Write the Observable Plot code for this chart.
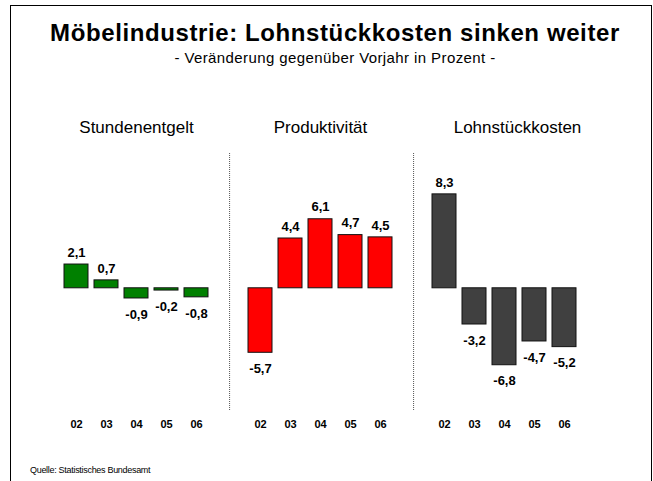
<!DOCTYPE html>
<html>
<head>
<meta charset="utf-8">
<script src="https://cdn.jsdelivr.net/npm/d3@7"></script>
<script src="https://cdn.jsdelivr.net/npm/@observablehq/plot@0.6"></script>
<style>
  html, body { margin: 0; padding: 0; background: #fff; overflow: hidden; }
  #wrap { position: relative; width: 653px; height: 481px; overflow: hidden; font-family: "Liberation Sans", Arial, sans-serif; color: #000; }
  #border { position: absolute; left: 10px; top: 5px; width: 640px; height: 520px; border: 1.5px solid #000; }
  #title { position: absolute; left: 0; width: 670px; top: 21px; text-align: center; font-size: 24px; line-height: 24px; font-weight: bold; letter-spacing: 0.6px; white-space: nowrap; }
  #subtitle { position: absolute; left: 0; width: 670px; top: 50px; text-align: center; font-size: 15px; line-height: 15px; letter-spacing: 0.4px; white-space: nowrap; }
  #chart { position: absolute; left: 0; top: 75px; }
  #caption { position: absolute; left: 30px; top: 466px; font-size: 9px; line-height: 9px; letter-spacing: -0.3px; white-space: nowrap; }
</style>
</head>
<body>
<div id="wrap">
  <div id="border"></div>
  <div id="title">Möbelindustrie: Lohnstückkosten sinken weiter</div>
  <div id="subtitle">- Veränderung gegenüber Vorjahr in Prozent -</div>
  <div id="chart"></div>
  <div id="caption">Quelle: Statistisches Bundesamt</div>
</div>
<script>
const panels = ["Stundenentgelt", "Produktivität", "Lohnstückkosten"];
const years = ["02", "03", "04", "05", "06"];
const stundenentgelt = [2.1, 0.7, -0.9, -0.2, -0.8];
const produktivitaet = [-5.7, 4.4, 6.1, 4.7, 4.5];
const lohnstueckkosten = [8.3, -3.2, -6.8, -4.7, -5.2];
const colors = ["#008000", "#ff0000", "#404040"];

const series = [stundenentgelt, produktivitaet, lohnstueckkosten];
const data = [];
panels.forEach((p, i) => years.forEach((y, j) => data.push({panel: p, year: y, value: series[i][j]})));
const fmt = v => v.toFixed(1).replace(".", ",");

// layout parameters
const width = 653, height = 380;
const marginLeft = 55, marginRight = 69, marginTop = 77, marginBottom = 45;
const fxPad = 0.133, xPad = 0.216;
const yDomain = [-10.8, 12.0];

// separator offset relative to centre of first band in a facet
const innerW = width - marginLeft - marginRight;
const fxStep = innerW / (panels.length - fxPad);
const facetW = fxStep * (1 - fxPad);
const gap = fxStep * fxPad;
const xStep = facetW / (years.length + xPad);
const firstCenter = xPad * xStep + (1 - xPad) * xStep / 2;
const sepDx = -(firstCenter + gap / 2);

const titleStyle = {frameAnchor: "top", text: "panel", dy: -32, fontSize: 17, fill: "#000", letterSpacing: 1.4};

const chart = Plot.plot({
  width, height, marginLeft, marginRight, marginTop, marginBottom,
  style: {fontFamily: "'Liberation Sans', Arial, sans-serif", background: "transparent", color: "#000"},
  fx: {domain: panels, paddingInner: fxPad, paddingOuter: 0, axis: null},
  x: {domain: years, paddingInner: xPad, paddingOuter: xPad},
  y: {domain: yDomain, axis: null},
  color: {domain: panels, range: colors},
  marks: [
    Plot.ruleX(panels.slice(1).map(p => ({panel: p})), {
      fx: "panel", x: () => years[0], y1: () => yDomain[0], y2: () => yDomain[1],
      dx: sepDx, stroke: "#555", strokeWidth: 1, strokeDasharray: "1,1"
    }),
    Plot.barY(data, {fx: "panel", x: "year", y: "value", fill: "panel", stroke: "#111", strokeWidth: 1}),
    Plot.text(data.filter(d => d.value >= 0), {
      fx: "panel", x: "year", y: "value", text: d => fmt(d.value),
      dy: -12, fontSize: 13, fontWeight: "bold", fill: "#000"
    }),
    Plot.text(data.filter(d => d.value < 0), {
      fx: "panel", x: "year", y: "value", text: d => fmt(d.value),
      dy: 16, fontSize: 13, fontWeight: "bold", fill: "#000"
    }),
    Plot.text(panels.slice(0, 2).map(p => ({panel: p})), {fx: "panel", x: () => years[2], ...titleStyle}),
    Plot.text(panels.slice(2).map(p => ({panel: p})), {fx: "panel", x: () => years[2], ...titleStyle, dx: 13}),
    Plot.axisX({tickSize: 0, tickPadding: 10, fontSize: 11, fontWeight: "bold", label: null, fill: "#000"})
  ]
});
document.getElementById("chart").appendChild(chart);
</script>
</body>
</html>
